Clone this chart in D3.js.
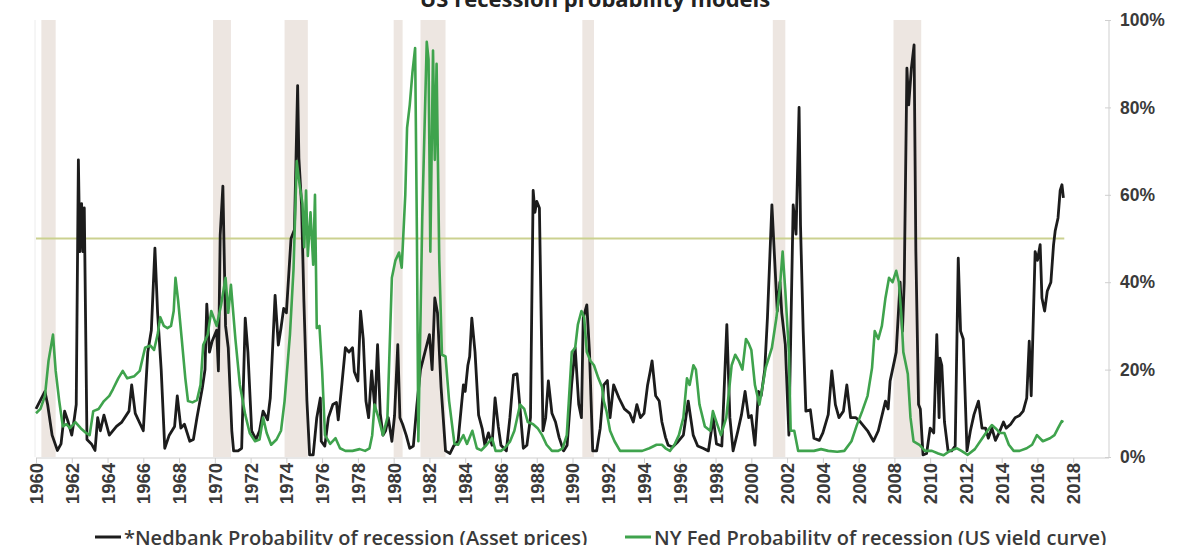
<!DOCTYPE html>
<html>
<head>
<meta charset="utf-8">
<script src="https://cdn.jsdelivr.net/npm/d3@7"></script>
<style>
  html, body { margin: 0; padding: 0; background: #fff; }
  svg { display: block; font-family: "Open Sans", "DejaVu Sans", sans-serif; }
</style>
</head>
<body>
<svg id="chart" width="1200" height="545"></svg>
<script>
// data (percent)
var nedYears = [1960.0,1960.25,1960.5,1960.65,1960.9,1961.2,1961.4,1961.6,1961.8,1962.0,1962.15,1962.25,1962.37,1962.45,1962.55,1962.62,1962.7,1962.85,1963.1,1963.3,1963.45,1963.6,1963.8,1964.1,1964.5,1964.8,1965.2,1965.35,1965.55,1966.0,1966.25,1966.45,1966.65,1966.8,1967.0,1967.2,1967.45,1967.75,1967.9,1968.1,1968.3,1968.6,1968.8,1969.0,1969.3,1969.45,1969.55,1969.7,1969.85,1970.1,1970.2,1970.3,1970.45,1970.6,1970.75,1970.95,1971.05,1971.3,1971.5,1971.7,1971.85,1972.06,1972.3,1972.5,1972.7,1972.95,1973.1,1973.37,1973.55,1973.7,1973.85,1974.0,1974.26,1974.45,1974.63,1974.7,1974.85,1974.98,1975.15,1975.3,1975.5,1975.7,1975.9,1975.95,1976.15,1976.35,1976.6,1976.8,1976.9,1977.1,1977.3,1977.5,1977.7,1977.8,1978.0,1978.15,1978.3,1978.45,1978.6,1978.77,1978.95,1979.1,1979.25,1979.4,1979.55,1979.7,1979.9,1980.05,1980.23,1980.35,1980.5,1980.7,1980.9,1981.1,1981.3,1981.5,1981.75,1982.0,1982.15,1982.3,1982.45,1982.65,1982.9,1983.15,1983.35,1983.6,1983.9,1984.0,1984.15,1984.25,1984.37,1984.55,1984.75,1984.95,1985.1,1985.3,1985.5,1985.67,1985.85,1986.0,1986.3,1986.5,1986.7,1986.9,1987.05,1987.25,1987.45,1987.65,1987.8,1987.9,1988.0,1988.15,1988.35,1988.5,1988.65,1988.85,1989.05,1989.25,1989.5,1989.7,1989.95,1990.15,1990.35,1990.5,1990.6,1990.8,1990.95,1991.13,1991.35,1991.55,1991.75,1991.95,1992.1,1992.3,1992.6,1992.9,1993.2,1993.4,1993.6,1993.8,1994.0,1994.2,1994.35,1994.45,1994.65,1994.85,1995.0,1995.2,1995.35,1995.6,1995.9,1996.2,1996.47,1996.75,1997.0,1997.3,1997.6,1997.87,1998.05,1998.35,1998.63,1998.8,1998.98,1999.25,1999.45,1999.65,1999.85,2000.0,2000.2,2000.4,2000.55,2000.75,2000.9,2001.15,2001.3,2001.45,2001.6,2001.7,2001.9,2002.1,2002.34,2002.5,2002.67,2002.75,2002.9,2003.05,2003.3,2003.5,2003.8,2004.0,2004.3,2004.5,2004.7,2004.9,2005.15,2005.34,2005.55,2005.85,2006.1,2006.5,2006.83,2007.1,2007.5,2007.65,2007.76,2008.0,2008.1,2008.32,2008.45,2008.55,2008.7,2008.8,2008.95,2009.1,2009.2,2009.35,2009.45,2009.6,2009.8,2010.0,2010.2,2010.37,2010.5,2010.55,2010.65,2010.8,2011.0,2011.2,2011.4,2011.57,2011.7,2011.85,2012.06,2012.25,2012.45,2012.7,2012.9,2013.1,2013.25,2013.45,2013.65,2013.85,2014.1,2014.25,2014.5,2014.75,2015.0,2015.2,2015.4,2015.54,2015.65,2015.87,2016.0,2016.15,2016.25,2016.4,2016.55,2016.75,2016.9,2016.99,2017.15,2017.27,2017.37,2017.45];
var nedValues = [11,13,15,12,5,1.5,3,10.5,8,5,9,12,68,47,58,47,57,4,3,1.5,9,6,9.6,5,7,8,10.5,16.5,10,6,24,29,47.8,33,20,2,5,7,14,6.6,7.5,3.6,4,9,15.8,20,35,24,26.5,29,19.7,50.8,62,30,25,6,1.4,1.4,2,31.8,24,6,4,6,10.5,8.5,13.5,37,25.6,29.5,34,33,50,52,85,68.4,57.7,35.7,12.8,0.5,0.5,9,13.5,3.6,2.5,9,12,12.5,8.5,16.5,25,24,25,19.5,17.4,33.4,27,12.8,9,19.7,11,25.7,10,5,6,9,3.6,9.5,25.7,9,7.5,5,2,2.5,12,20,24,28,20,36.4,33,16,1.4,0.8,2.5,3.6,16.5,15,21,23,31.8,24,9.6,6.5,2.7,5.5,2.7,13.5,7,2.7,1.4,9,18.8,19,12,2,2.7,9,61,56,58.5,57,6,9,17.4,10,8,4.5,1.4,2.7,16.5,25,12,9,31.8,34.8,24,1.4,1.4,6.6,16.5,17.5,9,16.5,13.5,11,10,8,12,9,10,16.5,19.7,22,14,12.8,8,4.5,2.7,2.3,3.5,5,12.8,5,2.5,2,1.4,9,3,2.5,30.3,9,1.4,6,9.7,15,9,9.5,2.7,15,14,20,31.8,57.7,45.5,33.4,40,33,25.7,5,57.7,51,80,53,28.8,10.5,10.8,4.3,3.8,5.5,9.7,19.7,12,9,10.5,16.5,9,9,8,6,3.6,6,12.8,11,17.4,22,24,40,28.8,40,89,80.6,89,94.3,47,12,11,0.5,0.8,6.6,5.5,28,9,22.6,21,8,1.4,1.4,2.5,45.5,28.8,27,1.4,6,9.7,12.8,6.6,6.6,4.3,6.6,3.8,5.5,8,6.6,7.5,9,9.5,10.5,13.5,26.5,14,47,45,48.6,36.4,33.4,38,40,48.6,51.7,54.7,61,62.3,59.3];

var fedYears = [1960.0,1960.25,1960.5,1960.7,1960.95,1961.1,1961.3,1961.5,1961.7,1961.9,1962.2,1962.5,1962.8,1963.0,1963.2,1963.5,1963.8,1964.1,1964.3,1964.6,1964.85,1965.1,1965.5,1965.8,1966.1,1966.4,1966.6,1966.8,1966.95,1967.15,1967.35,1967.55,1967.7,1967.8,1967.95,1968.15,1968.35,1968.5,1968.75,1969.0,1969.2,1969.35,1969.6,1969.8,1970.1,1970.35,1970.6,1970.75,1970.9,1971.15,1971.4,1971.7,1971.95,1972.25,1972.5,1972.7,1972.9,1973.15,1973.45,1973.7,1973.9,1974.2,1974.4,1974.58,1974.75,1974.9,1975.0,1975.1,1975.2,1975.35,1975.5,1975.6,1975.7,1975.85,1976.0,1976.16,1976.45,1976.75,1977.0,1977.3,1977.7,1978.1,1978.4,1978.65,1978.8,1978.93,1979.15,1979.4,1979.65,1979.9,1980.1,1980.3,1980.45,1980.65,1980.75,1980.9,1981.05,1981.2,1981.3,1981.38,1981.6,1981.85,1981.95,1982.05,1982.2,1982.3,1982.4,1982.55,1982.7,1982.9,1983.1,1983.4,1983.6,1983.9,1984.1,1984.4,1984.65,1984.9,1985.2,1985.5,1985.7,1986.0,1986.2,1986.5,1986.75,1987.07,1987.3,1987.5,1987.8,1988.05,1988.3,1988.55,1988.85,1989.2,1989.45,1989.68,1989.96,1990.15,1990.3,1990.5,1990.65,1990.8,1991.0,1991.2,1991.45,1991.65,1991.75,1991.9,1992.1,1992.35,1992.66,1993.1,1993.5,1993.9,1994.3,1994.7,1995.0,1995.2,1995.45,1995.7,1995.95,1996.2,1996.4,1996.55,1996.76,1996.9,1997.1,1997.4,1997.7,1997.85,1998.05,1998.3,1998.6,1998.9,1999.1,1999.3,1999.5,1999.7,1999.85,2000.0,2000.2,2000.45,2000.6,2000.8,2001.15,2001.4,2001.6,2001.75,2001.9,2002.1,2002.2,2002.4,2002.62,2003.0,2003.5,2003.9,2004.3,2004.8,2005.2,2005.6,2005.9,2006.2,2006.5,2006.75,2006.9,2007.1,2007.3,2007.5,2007.7,2007.9,2008.1,2008.25,2008.4,2008.5,2008.6,2008.75,2008.9,2009.07,2009.4,2009.7,2010.1,2010.45,2010.75,2011.1,2011.5,2011.75,2012.1,2012.5,2012.8,2013.2,2013.45,2013.65,2013.9,2014.15,2014.4,2014.67,2015.0,2015.4,2015.7,2015.97,2016.3,2016.7,2016.95,2017.15,2017.36,2017.45];
var fedValues = [10,11,14,22,28,19.7,12.8,7,7.5,6.6,8,6.6,5.5,5,10.5,11,12.8,14,15.5,18,19.7,18,18.5,19.7,25,25.5,24.5,28,32,30,29.5,30,33.4,41,35.7,27,18,12.8,12.5,13,16.5,25.6,28,33.4,30,34.8,41,33,39.4,27,16.5,9.7,5.5,3.6,4,9,5.5,2.8,4,6,12.8,28,43,67.7,62,58,48,61,46,56,44,60,29.5,30,19.7,5,3,4.3,2,1.4,1.4,1.8,1.4,2,5,12,9,5,9,41,45,46.8,43.3,60,75.3,80.6,88,93.6,50.9,3.6,55,95,91,47,93,68,90,45,23.4,23,12.8,3,2.8,5,3,6,2,1.5,2.8,4.3,1.4,1.4,2,3.5,6,12,11,8,7.5,6.6,5,2.8,1.4,1.4,2,5,24,25,30.3,33.4,32,24,22,21,18,16,12.8,10.5,6,3.6,1.4,1.4,1.4,1.4,2,2.8,2.8,2,1.4,2.8,5,9,18,16.5,21,20,12,7,6,10.5,8,5,9,21,23.4,22,20,27,26,24.5,16.5,12,15.5,20.4,25,31.8,39,47,38,24,6,6,1.4,1.4,1.4,1.8,1.4,1.2,1.4,3.6,7.3,10.5,14,20.4,28.8,27,30,36.4,41,40,42.6,40,31.8,24,22,19,9,3.6,2.8,1.4,1.4,0.8,0.4,1.4,2,1.4,0.5,1.8,3.6,6,7.3,6.6,5.5,5.5,2.8,1.4,1.4,2,2.8,5,3.6,4.3,5,6.6,8.2,8];

// NBER recessions
var recStart = [1960.3, 1969.9, 1973.9, 1980.0, 1981.5, 1990.55, 2001.2, 2007.95];
var recEnd   = [1961.1, 1970.9, 1975.2, 1980.5, 1982.9, 1991.2, 2001.9, 2009.5];

var xTicks = d3.range(1960, 2019, 2);
var yTicks = [0, 20, 40, 60, 80, 100];
var threshold = 50;

var title = 'US recession probability models';
var legendNames = ['*Nedbank Probability of recession (Asset prices)', 'NY Fed Probability of recession (US yield curve)'];

// colours
var cNed = '#1c1c1c',
	cFed = '#3fa34d',
	cRec = '#ede6e1',
	cThr = '#cbd190',
	cAxis = '#cfcfcf',
	cText = '#3a3a3a';

// layout (names avoid window.top etc.)
var plotL = 36, plotR = 1109, plotT = 20, plotB = 457;

var svg = d3.select('#chart');

var x = d3.scaleLinear().domain([1960, 2020]).range([plotL, plotR]);
var y = d3.scaleLinear().domain([0, 100]).range([plotB, plotT]);

// recession bands
svg.append('g').selectAll('rect')
	.data(recStart)
	.enter()
	.append('rect')
	.attr('x', function(d) { return x(d); })
	.attr('width', function(d, i) { return x(recEnd[i]) - x(d); })
	.attr('y', plotT)
	.attr('height', plotB - plotT)
	.attr('fill', cRec);

// faint left frame
svg.append('line')
	.attr('x1', plotL - 1).attr('x2', plotL - 1)
	.attr('y1', plotT).attr('y2', plotB)
	.attr('stroke', '#ececec').attr('stroke-width', 1);

// 50% line
svg.append('line')
	.attr('x1', x(1960)).attr('x2', x(2017.5))
	.attr('y1', y(threshold)).attr('y2', y(threshold))
	.attr('stroke', cThr).attr('stroke-width', 2);

// x axis
var xAxis = d3.axisBottom(x).tickValues(xTicks).tickSize(5).tickFormat(d3.format('d'));
var gx = svg.append('g')
	.attr('transform', 'translate(0,' + (plotB + 1) + ')')
	.call(xAxis);
gx.select('.domain').attr('stroke', cAxis).attr('d', 'M' + plotL + ',0H' + plotR);
gx.selectAll('.tick line').attr('stroke', cAxis);
gx.selectAll('.tick text')
	.attr('fill', cText)
	.attr('font-size', 18.5)
	.attr('font-weight', 600)
	.attr('transform', 'rotate(-90)')
	.attr('text-anchor', 'end')
	.attr('dy', '0.35em')
	.attr('x', -5)
	.attr('y', 0);

// y axis on the right
var yAxis = d3.axisRight(y).tickValues(yTicks).tickSize(4).tickFormat(function(d) { return d + '%'; });
var gy = svg.append('g')
	.attr('transform', 'translate(' + plotR + ',0)')
	.call(yAxis);
gy.select('.domain').attr('stroke', cAxis).attr('d', 'M0,' + plotT + 'V' + (plotB + 1));
gy.selectAll('.tick line').attr('stroke', cAxis).attr('x1', -4).attr('x2', 2);
gy.selectAll('.tick text')
	.attr('fill', cText)
	.attr('font-size', 17.5)
	.attr('font-weight', 600)
	.attr('x', 11);

// lines
var line = d3.line()
	.x(function(d) { return x(d[0]); })
	.y(function(d) { return y(d[1]); });

var ned = d3.zip(nedYears, nedValues);
var fed = d3.zip(fedYears, fedValues);

svg.append('path')
	.datum(ned)
	.attr('d', line)
	.attr('fill', 'none')
	.attr('stroke', cNed)
	.attr('stroke-width', 2.8)
	.attr('stroke-linejoin', 'round');

svg.append('path')
	.datum(fed)
	.attr('d', line)
	.attr('fill', 'none')
	.attr('stroke', cFed)
	.attr('stroke-width', 2.6)
	.attr('stroke-linejoin', 'round');

// title (cut by the top edge in the source)
svg.append('text')
	.attr('x', 595)
	.attr('y', 7)
	.attr('text-anchor', 'middle')
	.attr('font-size', 22)
	.attr('font-weight', 700)
	.attr('fill', '#222')
	.text(title);

// legend
var legX = [95, 625];
var legColors = [cNed, cFed];
var leg = svg.append('g').selectAll('g')
	.data(legendNames)
	.enter()
	.append('g')
	.attr('transform', function(d, i) { return 'translate(' + legX[i] + ',537)'; });
leg.append('line')
	.attr('x1', 0).attr('x2', 26)
	.attr('stroke', function(d, i) { return legColors[i]; })
	.attr('stroke-width', 3);
leg.append('text')
	.attr('x', 29)
	.attr('y', 8)
	.attr('font-size', 20)
	.attr('font-weight', 600)
	.attr('fill', cText)
	.text(function(d) { return d; });
</script>
</body>
</html>
